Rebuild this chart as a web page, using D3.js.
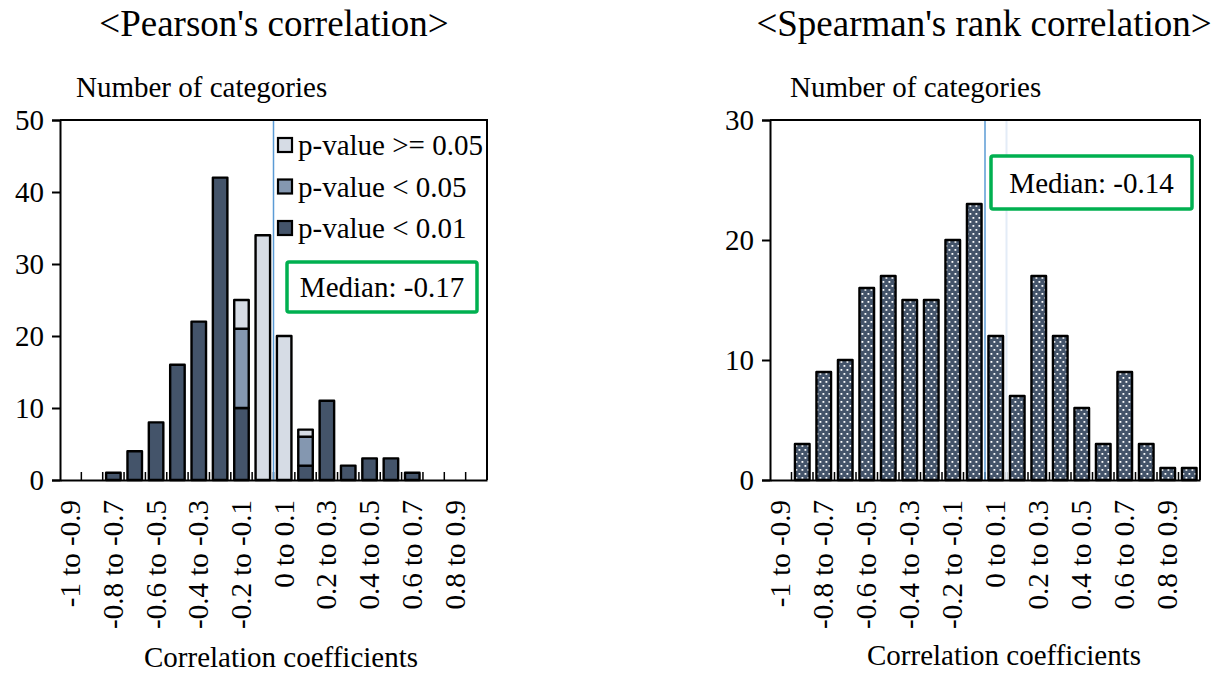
<!DOCTYPE html>
<meta charset="utf-8">
<style>
body { margin: 0; background: #fff; }
svg text { font-family: "Liberation Serif", "Times New Roman", serif; fill: #000; }
.domain { stroke: #000; stroke-width: 2px; }
.tick line { stroke: #000; stroke-width: 2px; }
</style>
<body>
<script src="https://d3js.org/d3.v7.min.js"></script>
<script>
// bins of correlation coefficient
var categories = ["-1 to -0.9", "-0.9 to -0.8", "-0.8 to -0.7", "-0.7 to -0.6", "-0.6 to -0.5",
  "-0.5 to -0.4", "-0.4 to -0.3", "-0.3 to -0.2", "-0.2 to -0.1", "-0.1 to 0",
  "0 to 0.1", "0.1 to 0.2", "0.2 to 0.3", "0.3 to 0.4", "0.4 to 0.5",
  "0.5 to 0.6", "0.6 to 0.7", "0.7 to 0.8", "0.8 to 0.9", "0.9 to 1"];
var binEdges = [-1, -0.9, -0.8, -0.7, -0.6, -0.5, -0.4, -0.3, -0.2, -0.1, 0,
  0.1, 0.2, 0.3, 0.4, 0.5, 0.6, 0.7, 0.8, 0.9, 1];
var shownLabels = ["-1 to -0.9", "-0.8 to -0.7", "-0.6 to -0.5", "-0.4 to -0.3", "-0.2 to -0.1",
  "0 to 0.1", "0.2 to 0.3", "0.4 to 0.5", "0.6 to 0.7", "0.8 to 0.9"];

// Pearson, stacked by p-value
var pearsonP01  = [0, 0, 1, 4, 8, 16, 22, 42, 10, 0, 0, 2, 11, 2, 3, 3, 1, 0, 0, 0];
var pearsonP05  = [0, 0, 0, 0, 0, 0, 0, 0, 11, 0, 0, 4, 0, 0, 0, 0, 0, 0, 0, 0];
var pearsonPge  = [0, 0, 0, 0, 0, 0, 0, 0, 4, 34, 20, 1, 0, 0, 0, 0, 0, 0, 0, 0];
// Spearman
var spearman    = [0, 3, 9, 10, 16, 17, 15, 15, 20, 23, 12, 7, 17, 12, 6, 3, 9, 3, 1, 1];

var pearsonTicks = [0, 10, 20, 30, 40, 50];
var spearmanTicks = [0, 10, 20, 30];
var legendLabels = ["p-value >= 0.05", "p-value < 0.05", "p-value < 0.01"];
var refLine = 0;

var serif = "'Liberation Serif', 'Times New Roman', serif";
var cDark = "#44546a", cMid = "#8497b0", cLight = "#d6dce5", cGreen = "#00b050";

var svg = d3.select("body").append("svg")
    .attr("width", 1219)
    .attr("height", 675);

// dotted pattern for spearman bars
var pat = svg.append("defs").append("pattern")
    .attr("id", "dots")
    .attr("patternUnits", "userSpaceOnUse")
    .attr("width", 6).attr("height", 8);
pat.append("rect").attr("width", 6).attr("height", 8).attr("fill", cDark);
pat.append("rect").attr("x", 0.5).attr("y", 1).attr("width", 1.8).attr("height", 1.8).attr("fill", "#fff");
pat.append("rect").attr("x", 3.5).attr("y", 5).attr("width", 1.8).attr("height", 1.8).attr("fill", "#fff");

function panel(opt) {
  var g = svg.append("g");
  var x = d3.scaleBand().domain(categories).range([opt.x0, opt.x1])
      .paddingInner(0.32).paddingOuter(0.16);
  var xe = d3.scaleLinear().domain([-1, 1]).range([opt.x0, opt.x1]);
  var y = d3.scaleLinear().domain([0, opt.ymax]).range([480, 120]);

  // small marks at bin edges
  g.selectAll(".edge")
    .data(binEdges.slice(1, -1))
    .enter().append("line")
      .attr("x1", function(d) { return xe(d); })
      .attr("x2", function(d) { return xe(d); })
      .attr("y1", y(0)).attr("y2", y(0) - 8)
      .attr("stroke", "#000").attr("stroke-width", 1.5);

  opt.extra(g, x, xe, y);

  // frame
  g.append("path")
      .attr("d", "M" + opt.x0 + "," + y(opt.ymax) + "H" + opt.x1 + "V" + y(0))
      .attr("fill", "none").attr("stroke", "#000").attr("stroke-width", 2);

  // axes
  var ay = g.append("g")
      .attr("transform", "translate(" + opt.x0 + ",0)")
      .call(d3.axisLeft(y).tickValues(opt.ticks).tickSize(8).tickPadding(8));
  ay.selectAll(".tick text")
      .style("font-family", serif)
      .style("font-size", "29px");

  var ax = g.append("g")
      .attr("transform", "translate(0," + y(0) + ")")
      .call(d3.axisBottom(x).tickValues(shownLabels).tickSize(0));
  ax.selectAll(".tick text")
      .style("font-family", serif)
      .style("font-size", "29px")
      .attr("transform", "rotate(-90)")
      .attr("x", -20).attr("y", 0).attr("dy", "0.33em")
      .style("text-anchor", "end");

  // titles
  g.append("text")
      .attr("x", opt.titleX).attr("y", 36)
      .attr("text-anchor", "middle")
      .style("font-size", "37px")
      .text(opt.title);
  g.append("text")
      .attr("x", opt.yTitleX).attr("y", 97)
      .style("font-size", "29px")
      .text("Number of categories");
  g.append("text")
      .attr("x", opt.xTitleX).attr("y", opt.xTitleY)
      .attr("text-anchor", "middle")
      .style("font-size", "29px")
      .text("Correlation coefficients");

  // median box
  g.append("rect")
      .attr("x", opt.box[0]).attr("y", opt.box[1])
      .attr("width", opt.box[2]).attr("height", opt.box[3])
      .attr("rx", 2)
      .attr("fill", "#fff").attr("stroke", cGreen).attr("stroke-width", 3.5);
  g.append("text")
      .attr("x", opt.box[0] + opt.box[2] / 2).attr("y", opt.box[1] + opt.box[3] / 2)
      .attr("dy", "0.35em")
      .attr("text-anchor", "middle")
      .style("font-size", "29px")
      .text(opt.median);
}

// Pearson panel
panel({
  x0: 60, x1: 487, ymax: 50, ticks: pearsonTicks,
  title: "<Pearson's correlation>", titleX: 274,
  yTitleX: 76, xTitleX: 281, xTitleY: 667,
  box: [287, 262, 190, 50], median: "Median: -0.17",
  extra: function(g, x, xe, y) {
    var rows = categories.map(function(c, i) {
      return { cat: c, p01: pearsonP01[i], p05: pearsonP05[i], pge: pearsonPge[i] };
    });
    var keys = ["p01", "p05", "pge"];
    var colors = { p01: cDark, p05: cMid, pge: cLight };
    var stacked = d3.stack().keys(keys)(rows);

    g.append("line")
        .attr("x1", xe(refLine)).attr("x2", xe(refLine))
        .attr("y1", y(50)).attr("y2", y(0))
        .attr("stroke", "#5b9bd5").attr("stroke-width", 1.5);

    stacked.forEach(function(layer) {
      g.selectAll(".bar-" + layer.key)
        .data(layer.filter(function(d) { return d[1] - d[0] > 0; }))
        .enter().append("rect")
          .attr("x", function(d) { return x(d.data.cat); })
          .attr("width", x.bandwidth())
          .attr("y", function(d) { return y(d[1]); })
          .attr("height", function(d) { return y(d[0]) - y(d[1]); })
          .attr("fill", colors[layer.key])
          .attr("stroke", "#000").attr("stroke-width", 2.4)
          .attr("stroke-linejoin", "round");
    });

    // legend
    var legColors = [cLight, cMid, cDark];
    var leg = g.selectAll(".leg").data(legendLabels).enter().append("g")
        .attr("transform", function(d, i) { return "translate(278," + (145 + i * 41.5) + ")"; });
    leg.append("rect")
        .attr("x", 0).attr("y", -7).attr("width", 14).attr("height", 14)
        .attr("fill", function(d, i) { return legColors[i]; })
        .attr("stroke", "#000").attr("stroke-width", 2.2);
    leg.append("text")
        .attr("x", 20).attr("y", 0).attr("dy", "0.35em")
        .style("font-size", "29px")
        .text(function(d) { return d; });
  }
});

// Spearman panel
panel({
  x0: 770, x1: 1200, ymax: 30, ticks: spearmanTicks,
  title: "<Spearman's rank correlation>", titleX: 984,
  yTitleX: 790, xTitleX: 1004, xTitleY: 665,
  box: [991, 156, 201, 53], median: "Median: -0.14",
  extra: function(g, x, xe, y) {
    g.append("line")
        .attr("x1", xe(0.1)).attr("x2", xe(0.1))
        .attr("y1", y(30)).attr("y2", y(0))
        .attr("stroke", "#e3ecf7").attr("stroke-width", 2);
    g.append("line")
        .attr("x1", xe(refLine)).attr("x2", xe(refLine))
        .attr("y1", y(30)).attr("y2", y(0))
        .attr("stroke", "#5b9bd5").attr("stroke-width", 1.5);

    g.selectAll(".sbar")
      .data(categories.filter(function(c, i) { return spearman[i] > 0; }))
      .enter().append("rect")
        .attr("x", function(c) { return x(c); })
        .attr("width", x.bandwidth())
        .attr("y", function(c) { return y(spearman[categories.indexOf(c)]); })
        .attr("height", function(c) { return y(0) - y(spearman[categories.indexOf(c)]); })
        .attr("fill", "url(#dots)")
        .attr("stroke", "#000").attr("stroke-width", 2.4)
        .attr("stroke-linejoin", "round");
  }
});
</script>
</body>
